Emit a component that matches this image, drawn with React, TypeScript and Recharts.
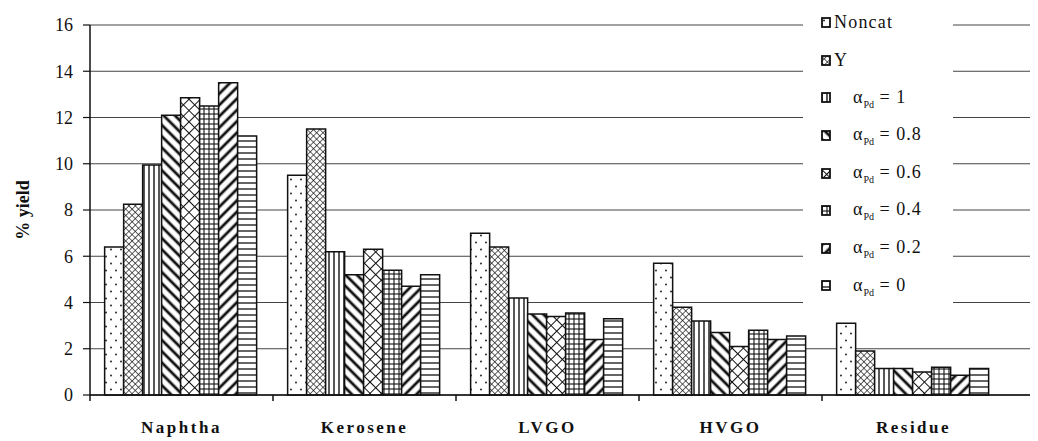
import { Bar, BarChart, CartesianGrid, Legend, XAxis, YAxis } from "recharts";

const categories = ["Naphtha", "Kerosene", "LVGO", "HVGO", "Residue"];

const noncat = [6.4, 9.5, 7.0, 5.7, 3.1];
const zeoliteY = [8.25, 11.5, 6.4, 3.8, 1.9];
const alpha1 = [9.95, 6.2, 4.2, 3.2, 1.15];
const alpha08 = [12.1, 5.2, 3.5, 2.7, 1.15];
const alpha06 = [12.85, 6.3, 3.4, 2.1, 1.0];
const alpha04 = [12.5, 5.4, 3.55, 2.8, 1.2];
const alpha02 = [13.5, 4.7, 2.4, 2.4, 0.85];
const alpha0 = [11.2, 5.2, 3.3, 2.55, 1.15];

const yTicks = [0, 2, 4, 6, 8, 10, 12, 14, 16];

const series = [
  { key: "noncat", name: "Noncat", alpha: "", values: noncat, pattern: "pat-dots" },
  { key: "y", name: "Y", alpha: "", values: zeoliteY, pattern: "pat-fine" },
  { key: "a1", name: "αPd = 1", alpha: "1", values: alpha1, pattern: "pat-vert" },
  { key: "a08", name: "αPd = 0.8", alpha: "0.8", values: alpha08, pattern: "pat-back" },
  { key: "a06", name: "αPd = 0.6", alpha: "0.6", values: alpha06, pattern: "pat-cross" },
  { key: "a04", name: "αPd = 0.4", alpha: "0.4", values: alpha04, pattern: "pat-grid" },
  { key: "a02", name: "αPd = 0.2", alpha: "0.2", values: alpha02, pattern: "pat-fwd" },
  { key: "a0", name: "αPd = 0", alpha: "0", values: alpha0, pattern: "pat-horiz" },
];

const data = categories.map((cat, i) => {
  const row: Record<string, string | number> = { cat };
  series.forEach((s) => {
    row[s.key] = s.values[i];
  });
  return row;
});

const serif = "'Times New Roman', 'Liberation Serif', 'DejaVu Serif', 'Noto Serif', serif";
const ink = "#111";

function CategoryTick(props: any) {
  const { x, y, payload } = props;
  const half = payload?.offset ?? 91.5;
  return (
    <g>
      <line x1={x - half} y1={y} x2={x - half} y2={y + 6} stroke={ink} strokeWidth={1.5} />
      <text x={x} y={y + 38} textAnchor="middle" style={{ fontFamily: serif }} fontWeight="bold" fontSize={17} letterSpacing={2.5} fill={ink}>
        {payload.value}
      </text>
    </g>
  );
}

function YieldLabel(props: any) {
  const vb = props.viewBox || { x: 0, y: 17, width: 82, height: 370 };
  const cx = vb.x + 15;
  const cy = vb.y + vb.height / 2;
  return (
    <text x={cx} y={cy} transform={`rotate(-90 ${cx} ${cy})`} textAnchor="middle" dominantBaseline="central" style={{ fontFamily: serif }} fontWeight="bold" fontSize={18} fill={ink}>
      % yield
    </text>
  );
}

function PatternLegend() {
  // fixed series order, top to bottom as in the figure
  return (
    <div style={{ background: "#fff", width: 150 }}>
      {series.map((s) => (
        <div key={s.key} style={{ display: "flex", alignItems: "center", height: 37.6, fontFamily: serif, fontSize: 18, color: ink }}>
          <svg width={10} height={11} style={{ marginLeft: 18, flex: "none" }}>
            <rect x={1} y={1} width={8} height={9} fill={`url(#${s.pattern})`} stroke={ink} strokeWidth={1.8} />
          </svg>
          {s.alpha === "" ? (
            <span style={{ marginLeft: 3, letterSpacing: 1.2 }}>{s.name}</span>
          ) : (
            <span style={{ marginLeft: 22, letterSpacing: 1 }}>
              α<sub style={{ fontSize: 10, letterSpacing: 0 }}>Pd</sub> = {s.alpha}
            </span>
          )}
        </div>
      ))}
    </div>
  );
}

export default function App() {
  return (
    <div style={{ width: 1030, height: 433 }}>
      <BarChart width={1030} height={433} data={data} margin={{ top: 17, right: 0, bottom: 0, left: 0 }} barCategoryGap="8%" barGap={0}>
        <defs>
          <pattern id="pat-dots" patternUnits="userSpaceOnUse" width={10} height={14}>
            <rect width={10} height={14} fill="#fff" />
            <circle cx={3} cy={3.5} r={0.9} fill={ink} />
            <circle cx={8} cy={10.5} r={0.9} fill={ink} />
          </pattern>
          <pattern id="pat-fine" patternUnits="userSpaceOnUse" width={4.5} height={4.5} patternTransform="rotate(45)">
            <rect width={4.5} height={4.5} fill="#fff" />
            <line x1={0} y1={0} x2={0} y2={4.5} stroke={ink} strokeWidth={1.3} />
            <line x1={0} y1={0} x2={4.5} y2={0} stroke={ink} strokeWidth={1.3} />
          </pattern>
          <pattern id="pat-vert" patternUnits="userSpaceOnUse" width={5} height={5}>
            <rect width={5} height={5} fill="#fff" />
            <line x1={1} y1={0} x2={1} y2={5} stroke={ink} strokeWidth={1.4} />
          </pattern>
          <pattern id="pat-back" patternUnits="userSpaceOnUse" width={8} height={8} patternTransform="rotate(-45)">
            <rect width={8} height={8} fill="#fff" />
            <line x1={2} y1={0} x2={2} y2={8} stroke={ink} strokeWidth={2.8} />
          </pattern>
          <pattern id="pat-cross" patternUnits="userSpaceOnUse" width={8} height={8} patternTransform="rotate(45)">
            <rect width={8} height={8} fill="#fff" />
            <line x1={0.5} y1={0} x2={0.5} y2={8} stroke={ink} strokeWidth={1} />
            <line x1={0} y1={0.5} x2={8} y2={0.5} stroke={ink} strokeWidth={1} />
          </pattern>
          <pattern id="pat-grid" patternUnits="userSpaceOnUse" width={5} height={5}>
            <rect width={5} height={5} fill="#fff" />
            <line x1={1} y1={0} x2={1} y2={5} stroke={ink} strokeWidth={1.1} />
            <line x1={0} y1={1} x2={5} y2={1} stroke={ink} strokeWidth={1.1} />
          </pattern>
          <pattern id="pat-fwd" patternUnits="userSpaceOnUse" width={8} height={8} patternTransform="rotate(45)">
            <rect width={8} height={8} fill="#fff" />
            <line x1={2} y1={0} x2={2} y2={8} stroke={ink} strokeWidth={2.8} />
          </pattern>
          <pattern id="pat-horiz" patternUnits="userSpaceOnUse" width={6} height={6}>
            <rect width={6} height={6} fill="#fff" />
            <line x1={0} y1={1} x2={6} y2={1} stroke={ink} strokeWidth={1.3} />
          </pattern>
        </defs>
        <CartesianGrid vertical={false} stroke="#444" strokeWidth={1} />
        <XAxis
          dataKey="cat"
          height={46}
          padding={{ left: 0, right: 33 }}
          axisLine={{ stroke: ink, strokeWidth: 1.5 }}
          tickLine={false}
          tickSize={0}
          tickMargin={0}
          tick={<CategoryTick />}
          interval={0}
        />
        <YAxis
          width={82}
          domain={[0, 16]}
          ticks={yTicks}
          interval={0}
          axisLine={{ stroke: ink, strokeWidth: 1.5 }}
          tickLine={{ stroke: ink, strokeWidth: 1.2 }}
          tickSize={7}
          tickMargin={10}
          tick={{ fontFamily: serif, fontSize: 18, fill: ink, style: { fontFamily: serif } }}
          label={{ content: <YieldLabel /> }}
        />
        <Legend
          layout="vertical"
          align="center"
          verticalAlign="middle"
          wrapperStyle={{ left: 795, top: -4, width: 150 }}
          content={<PatternLegend />}
        />
        {series.map((s) => (
          <Bar
            key={s.key}
            dataKey={s.key}
            name={s.name}
            fill={`url(#${s.pattern})`}
            stroke={ink}
            strokeWidth={1.5}
            isAnimationActive={false}
          />
        ))}
      </BarChart>
    </div>
  );
}
